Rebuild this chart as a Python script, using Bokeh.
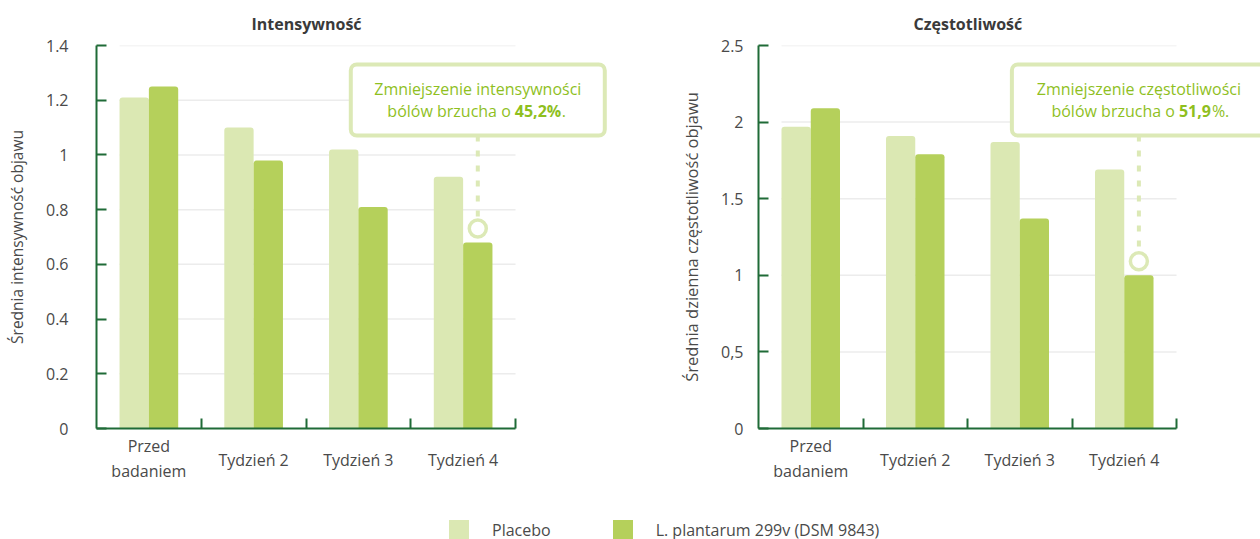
from bokeh.plotting import figure
from bokeh.models import (Range1d, FixedTicker, BoxAnnotation, Label, Legend, LegendItem,
                          LinearAxis)
from bokeh.layouts import column, row
from bokeh.embed import file_html
from bokeh.resources import INLINE

# ---------------- data ----------------
categories = ["Przed\nbadaniem", "Tydzień 2", "Tydzień 3", "Tydzień 4"]
series_names = ["Placebo", "L. plantarum 299v (DSM 9843)"]

int_placebo = [1.21, 1.10, 1.02, 0.92]
int_plantarum = [1.25, 0.98, 0.81, 0.68]
freq_placebo = [1.97, 1.91, 1.87, 1.69]
freq_plantarum = [2.09, 1.79, 1.37, 1.00]

int_ticks = [0, 0.2, 0.4, 0.6, 0.8, 1.0, 1.2, 1.4]
int_tick_labels = ["0", "0.2", "0.4", "0.6", "0.8", "1", "1.2", "1.4"]
freq_ticks = [0, 0.5, 1.0, 1.5, 2.0, 2.5]
freq_tick_labels = ["0", "0,5", "1", "1.5", "2", "2.5"]

chart_titles = ["Intensywność", "Częstotliwość"]
y_titles = ["Średnia intensywność objawu", "Średnia dzienna częstotliwość objawu"]
note_line1 = ["Zmniejszenie intensywności", "Zmniejszenie częstotliwości"]
note_line2_start = ["bólów brzucha o", "bólów brzucha o"]
note_bold = ["45,2%", "51,9"]
note_tail = [".", "%."]

# ---------------- style ----------------
FONT = "Open Sans"
C_PLACEBO = "#dbe8b3"
C_PLANT = "#b5d05b"
C_AXIS = "#1f6b37"
C_TEXT = "#4a4a4a"
C_GRID = "#ececec"
C_NOTE = "#dce9b6"
C_NOTE_TEXT = "#8fbf1f"

BAR_W = 0.28
DODGE = 0.14
FIG_H = 498
LEGEND_H = 539 - FIG_H


def make_chart(title, ytitle, placebo, plant, ticks, tick_labels, ymax,
               border_left, axis_px, label_standoff, ylabel_standoff, ylabel_size,
               title_offset, note_idx, bold_off, tail_off):
    W, H = 630, FIG_H
    top, bottom = 45, 70
    n = len(categories)
    frame_w = W - border_left
    px_x = axis_px / n                      # pixels per category band
    x_end = frame_w / px_x                   # frame extends beyond the axis end
    frame_h = H - top - bottom
    px_y = frame_h / ymax

    p = figure(width=W, height=H, toolbar_location=None, output_backend="svg",
               x_range=Range1d(0, x_end), y_range=Range1d(0, ymax),
               min_border_left=border_left, min_border_right=0,
               min_border_top=top, min_border_bottom=bottom)
    p.outline_line_color = None
    p.xgrid.visible = False
    p.ygrid.visible = False
    p.background_fill_color = "white"
    p.border_fill_color = "white"

    p.title.text = title
    p.title.align = "left"
    p.title.offset = title_offset
    p.title.text_font = FONT
    p.title.text_font_size = "16px"
    p.title.text_font_style = "bold"
    p.title.text_color = "#3a3a3a"
    p.title.standoff = 21

    centers = [i + 0.5 for i in range(n)]
    xp = [c - DODGE for c in centers]
    xg = [c + DODGE for c in centers]

    grid_y = [t for t in ticks if t > 0]
    p.segment(x0=[xp[0] - BAR_W / 2] * len(grid_y), x1=[n] * len(grid_y),
              y0=grid_y, y1=grid_y, line_color=C_GRID, line_width=1.5)

    p.vbar(x=xp, top=placebo, width=BAR_W, fill_color=C_PLACEBO, line_color=None,
           border_radius=(3, 3, 0, 0))
    p.vbar(x=xg, top=plant, width=BAR_W, fill_color=C_PLANT, line_color=None,
           border_radius=(3, 3, 0, 0))

    # y axis
    ya = p.yaxis[0]
    ya.ticker = FixedTicker(ticks=ticks, minor_ticks=[])
    ya.major_label_overrides = {t: l for t, l in zip(ticks, tick_labels)}
    ya.axis_line_color = C_AXIS
    ya.axis_line_width = 2
    ya.major_tick_line_color = C_AXIS
    ya.major_tick_line_width = 2
    ya.major_tick_in = 10
    ya.major_tick_out = 0
    ya.minor_tick_line_color = None
    ya.major_label_text_font = FONT
    ya.major_label_text_font_size = "16px"
    ya.major_label_text_color = C_TEXT
    ya.major_label_text_align = "left"
    ya.major_label_standoff = label_standoff
    ya.axis_label = ytitle
    ya.axis_label_text_font = FONT
    ya.axis_label_text_font_size = ylabel_size
    ya.axis_label_text_font_style = "normal"
    ya.axis_label_text_color = C_TEXT
    ya.axis_label_standoff = ylabel_standoff

    # x axis: line + boundary ticks + two-line labels
    two_line = {c: l for c, l in zip(centers, categories) if "\n" in l}
    one_line = {c: l for c, l in zip(centers, categories) if "\n" not in l}
    xa = p.xaxis[0]
    xa.bounds = (0, n)
    xa.ticker = FixedTicker(ticks=centers, minor_ticks=list(range(1, n + 1)))
    xa.major_label_overrides = {c: two_line.get(c, "") for c in centers}
    xa.axis_line_color = C_AXIS
    xa.axis_line_width = 2
    xa.major_tick_line_color = None
    xa.minor_tick_line_color = C_AXIS
    xa.minor_tick_line_width = 2
    xa.minor_tick_in = 10
    xa.minor_tick_out = 0
    xa.major_label_text_font = FONT
    xa.major_label_text_font_size = "16px"
    xa.major_label_text_color = C_TEXT
    xa.major_label_text_line_height = 1.18
    xa.major_label_standoff = 0

    # second label row: single-line labels, pulled up to the middle of the row
    xb = LinearAxis(ticker=FixedTicker(ticks=centers, minor_ticks=[]),
                    major_label_overrides={c: one_line.get(c, "") for c in centers},
                    bounds=(0, n), axis_line_color=None, major_tick_line_color=None,
                    minor_tick_line_color=None,
                    major_label_text_font=FONT, major_label_text_font_size="16px",
                    major_label_text_color=C_TEXT, major_label_standoff=-43)
    p.add_layout(xb, "below")

    # annotation: box, dashed line, circle
    gx = xg[-1]
    gv = plant[-1]
    circ_y = gv + 14 / px_y
    box_top = ymax - 19 / px_y
    box_bot = ymax - 90 / px_y
    half_w = 127 / px_x
    p.segment(x0=[gx], x1=[gx], y0=[box_bot], y1=[circ_y], line_color=C_NOTE,
              line_width=4, line_dash="6 9")
    p.scatter(x=[gx], y=[circ_y], size=17, marker="circle", fill_color="white",
              line_color=C_NOTE, line_width=3.5)
    box = BoxAnnotation(left=gx - half_w, right=gx + half_w, top=box_top, bottom=box_bot,
                        fill_color="white", fill_alpha=1, line_color=C_NOTE,
                        line_width=4, line_alpha=1, border_radius=6, level="overlay")
    p.add_layout(box)
    l1_y = ymax - 43 / px_y
    l2_y = ymax - 65 / px_y
    common = dict(text_font=FONT, text_font_size="16px", text_color=C_NOTE_TEXT,
                  text_baseline="middle", level="overlay")
    p.add_layout(Label(x=gx, y=l1_y, text=note_line1[note_idx], text_align="center", **common))
    p.add_layout(Label(x=gx, y=l2_y, x_offset=bold_off - 4, text=note_line2_start[note_idx],
                       text_align="right", **common))
    p.add_layout(Label(x=gx, y=l2_y, x_offset=bold_off, text=note_bold[note_idx],
                       text_align="left", text_font_style="bold", **common))
    p.add_layout(Label(x=gx, y=l2_y, x_offset=tail_off, text=note_tail[note_idx],
                       text_align="left", **common))
    return p


p1 = make_chart(chart_titles[0], y_titles[0], int_placebo, int_plantarum,
                int_ticks, int_tick_labels, 1.4, 96, 419, 28, 15, "15.5px", 155, 0, 37, 84)
p2 = make_chart(chart_titles[1], y_titles[1], freq_placebo, freq_plantarum,
                freq_ticks, freq_tick_labels, 2.5, 128, 418, 15, 15, "16.5px", 155, 1, 40, 73)

# legend strip
lg = figure(width=1260, height=LEGEND_H, toolbar_location=None, output_backend="svg",
            x_range=Range1d(0, 1), y_range=Range1d(0, 1), min_border=0)
lg.axis.visible = False
lg.grid.visible = False
lg.outline_line_color = None
r1 = lg.vbar(x=[0.5], top=[0], width=0.0, fill_color=C_PLACEBO, line_color=None)
r2 = lg.vbar(x=[0.5], top=[0], width=0.0, fill_color=C_PLANT, line_color=None)
legend = Legend(items=[LegendItem(label=series_names[0], renderers=[r1]),
                       LegendItem(label=series_names[1], renderers=[r2])],
                orientation="horizontal", location=(446, -3),
                glyph_width=25, glyph_height=25, label_standoff=21, spacing=59,
                padding=0, margin=0, border_line_color=None, background_fill_alpha=0,
                label_text_font=FONT, label_text_font_size="16px",
                label_text_color=C_TEXT)
lg.add_layout(legend)

layout = column(row(p1, p2), lg)
open("out.html", "w").write(file_html(layout, INLINE))
